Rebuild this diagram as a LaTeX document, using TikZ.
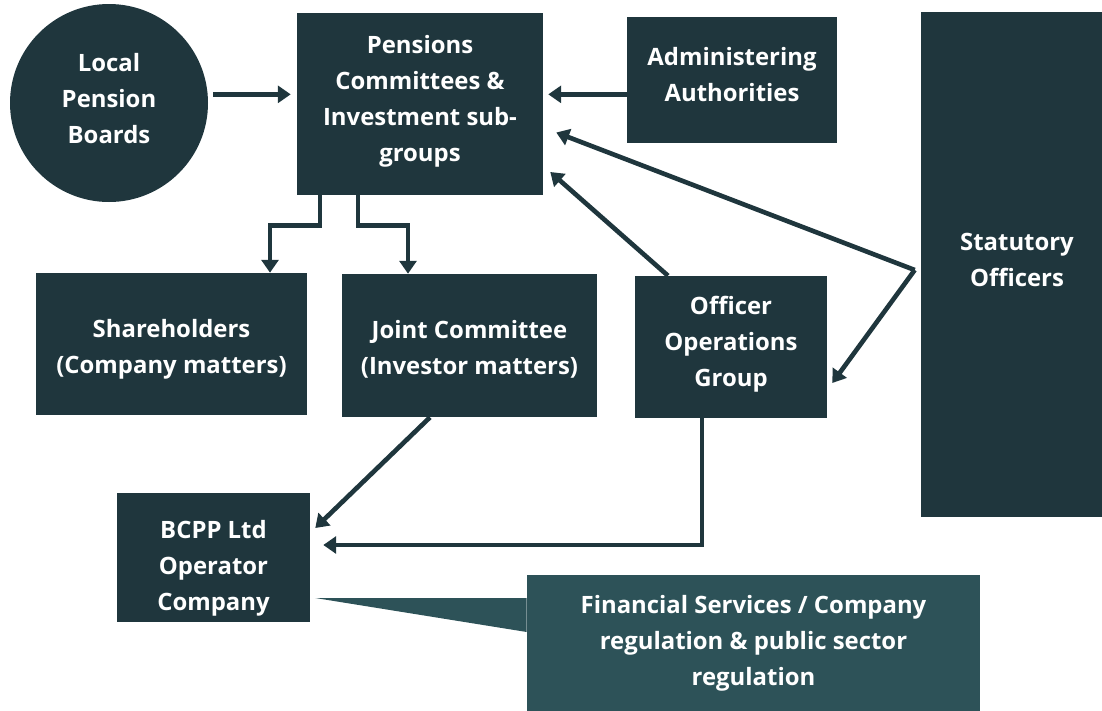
\documentclass[tikz,border=0pt]{standalone}
\usepackage{fontspec}
\setmainfont{Open Sans}
\usepackage{tikz}
\usetikzlibrary{calc,arrows.meta}
\definecolor{boxdark}{HTML}{1F363D}
\definecolor{calloutteal}{HTML}{2D5258}
\def\ArrWidth{3.3pt}

\begin{document}
\begin{tikzpicture}[
		box/.style={fill=boxdark,text=white,font=\bfseries\fontsize{17}{25.5}\selectfont,align=center,inner sep=0pt},
		arr/.style={draw=boxdark,line width=\ArrWidth,-{Triangle[length=0.32cm,width=0.42cm]}},
	]
	\useasboundingbox (0,0) rectangle (27.55,-17.75);
	% governance bodies
	\node[box,circle,minimum size=4.95cm,text depth=7pt] (lpb) at (2.725,-2.575) {Local\\Pension\\Boards};
	\node[box,minimum width=6.15cm,minimum height=4.55cm,text depth=8.3pt] (pc) at (10.5,-2.6) {Pensions\\Committees \&\\Investment sub-\\groups};
	\node[box,minimum width=5.25cm,minimum height=3.15cm,text depth=8.5pt] (ad) at (18.3,-2.0) {Administering\\Authorities};
	\node[box,minimum width=4.8cm,minimum height=12.625cm,text depth=7pt] (so) at (25.425,-6.6125) {Statutory\\Officers};
	% 
	\node[box,minimum width=6.775cm,minimum height=3.55cm,text height=45.4pt] (sh) at (4.2875,-8.6) {Shareholders\\(Company matters)};
	\node[box,minimum width=6.375cm,minimum height=3.575cm,text height=44pt] (jc) at (11.7375,-8.6375) {Joint Committee\\(Investor matters)};
	\node[box,minimum width=4.8cm,minimum height=3.55cm,text depth=8.3pt] (oog) at (18.275,-8.675) {Officer\\Operations\\Group};
	% 
	\node[box,minimum width=4.825cm,minimum height=3.225cm,text height=79.5pt] (bcpp) at (5.3375,-13.9375) {BCPP Ltd\\Operator\\Company};
	\node[box,fill=calloutteal,minimum width=11.325cm,minimum height=3.425cm] (fsr) at (18.8375,-16.0875) {Financial Services / Company\\regulation \& public sector\\regulation};
	% callout pointer
	\coordinate (tip) at ($(bcpp.east)+(0.125,-1.0125)$);
	\fill[calloutteal] (tip) -- (fsr.west |- tip) -- ($(fsr.west |- tip)+(0,-0.85)$) -- cycle;
	% 
	\coordinate (j) at ($(so.west)+(-0.15,-0.1375)$);
	% connectors
	\draw[arr] ([xshift=0.13cm]lpb.5) -- ($(pc.west |- lpb.5)+(-0.15,0)$);
	\draw[arr] (ad.west |- lpb.5) -- ($(pc.east |- lpb.5)+(0.125,0)$);
	\draw[arr] (j) -- ($(pc.east)+(0.325,-0.7125)$);
	\draw[arr] (j) -- ($(oog.east)+(0.125,-0.9)$);
	\draw[arr] ($(oog.north)+(-1.575,0)$) -- ($(pc.east)+(0.175,-1.7)$);
	\draw[arr] ($(pc.south)+(-2.5,0)$) -- ++(0,-0.75) -| ($(sh.north)+(2.4625,0)$);
	\draw[arr] ($(pc.south)+(-1.55,0)$) -- ++(0,-0.75) -| ($(jc.north)+(-1.5375,0)$);
	\draw[arr] ($(jc.south)+(-0.9875,0)$) -- ($(bcpp.east)+(0.125,0.7375)$);
	\draw[arr] ($(oog.south)+(-0.725,0)$) |- ($(bcpp.east)+(0.325,0.3125)$);
\end{tikzpicture}
\end{document}
